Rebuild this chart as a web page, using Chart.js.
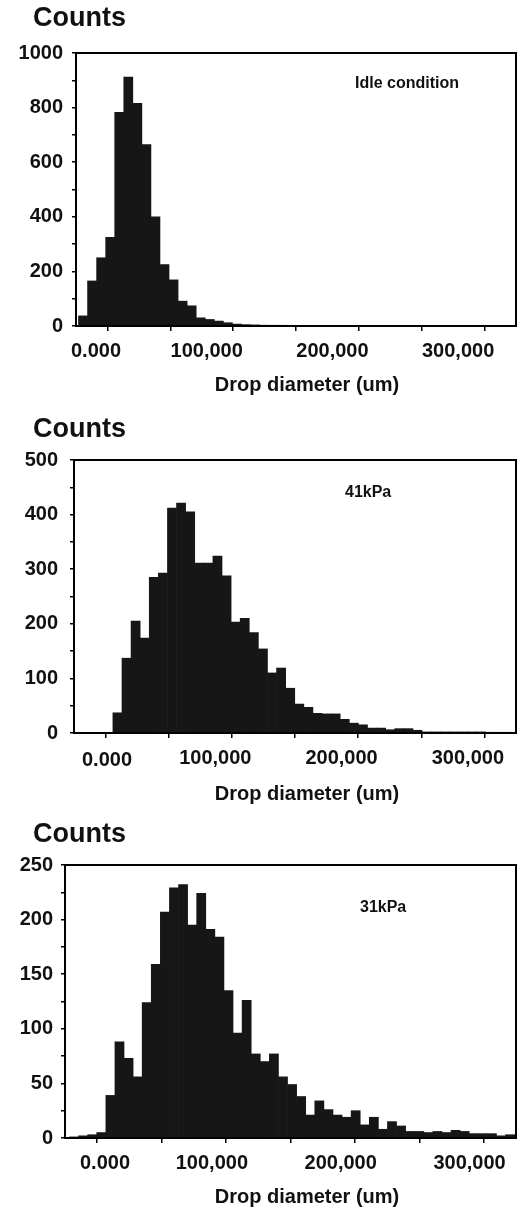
<!DOCTYPE html>
<html><head><meta charset="utf-8">
<script src="https://cdn.jsdelivr.net/npm/chart.js@4/dist/chart.umd.min.js"></script>
<style>
html,body{margin:0;padding:0;background:#fff;width:524px;height:1207px;overflow:hidden}
canvas{position:absolute;left:0;display:block}
</style></head><body>
<canvas id="c1" width="524" height="405" style="top:0"></canvas>
<canvas id="c2" width="524" height="405" style="top:405px"></canvas>
<canvas id="c3" width="524" height="397" style="top:810px"></canvas>
<script>
// ---- shared axis text ----
const yAxisTitle = 'Counts';
const xAxisTitle = 'Drop diameter (um)';
const xTickValues = [0, 100000, 200000, 300000];
const xTickLabels = ['0.000', '100,000', '200,000', '300,000'];
const xMinorTicks = [50000, 150000, 250000, 350000];
const xMax = 350000;

// ---- panel 1: idle condition ----
const idleLabel = 'Idle condition';
const idleBinStart = 2000;
const idleBinWidth = 7200;
const idleCounts = [37, 165, 250, 325, 783, 912, 816, 665, 400, 225, 169, 91, 74, 30, 24, 18, 12, 7, 5, 4, 3, 2, 1];
const idleYTicks = [0, 200, 400, 600, 800, 1000];
const idleYMinor = [100, 300, 500, 700, 900];

// ---- panel 2: 41 kPa ----
const kpa41Label = '41kPa';
const kpa41BinStart = 2000;
const kpa41BinWidth = 7200;
const kpa41Counts = [0, 0, 0, 0, 37, 137, 205, 174, 285, 293, 412, 421, 405, 311, 311, 324, 288, 203, 210, 184, 154, 110, 119, 82, 53, 47, 36, 35, 35, 25, 18, 15, 9, 9, 6, 8, 8, 5, 2, 2, 2, 2, 2, 2, 2, 1, 1, 1, 1];
const kpa41YTicks = [0, 100, 200, 300, 400, 500];
const kpa41YMinor = [50, 150, 250, 350, 450];

// ---- panel 3: 31 kPa ----
const kpa31Label = '31kPa';
const kpa31BinStart = 3500;
const kpa31BinWidth = 7050;
const kpa31Counts = [1, 2, 3, 5, 39, 88, 73, 56, 124, 159, 207, 229, 232, 195, 224, 191, 184, 135, 96, 126, 77, 70, 77, 56, 49, 38, 21, 34, 26, 21, 19, 25, 12, 19, 8, 15, 11, 6, 6, 5, 6, 5, 7, 6, 4, 4, 4, 2, 3];
const kpa31YTicks = [0, 50, 100, 150, 200, 250];
const kpa31YMinor = [25, 75, 125, 175, 225];

const FONT = '"Liberation Sans", Arial, sans-serif';
const INK = '#111';

const figText = {
  id: 'figText',
  afterDraw(chart, args, o) {
    const ctx = chart.ctx, a = chart.chartArea;
    ctx.save();
    ctx.strokeStyle = '#000';
    ctx.lineWidth = 2;
    ctx.strokeRect(a.left, a.top, a.right - a.left, a.bottom - a.top);
    ctx.fillStyle = INK;
    ctx.textBaseline = 'middle';
    for (const t of o.texts) {
      ctx.font = t.font;
      ctx.textAlign = t.align || 'left';
      ctx.fillText(t.text, t.x, t.y);
    }
    const xs = chart.scales.x;
    ctx.font = 'bold 20px ' + FONT;
    ctx.textAlign = 'center';
    ctx.fillText(xTickLabels[0], xs.getPixelForValue(xTickValues[0]) + o.zeroShift, o.tickY);
    ctx.restore();
  }
};

function makeChart(id, p) {
  const data = p.counts.map((c, i) => ({ x: p.binStart + p.binWidth * (i + 0.5), y: c }));
  return new Chart(document.getElementById(id), {
    type: 'bar',
    data: { datasets: [{ data, backgroundColor: '#161616', borderWidth: 0, barPercentage: 1, categoryPercentage: 1 }] },
    options: {
      responsive: false,
      animation: false,
      layout: { padding: { top: p.top, right: 7, left: 0, bottom: 0 } },
      plugins: {
        legend: { display: false },
        tooltip: { enabled: false },
        figText: {
          zeroShift: p.zeroShift,
          tickY: p.tickY,
          texts: [
            { text: yAxisTitle, x: 33, y: p.countsY, font: 'bold 27px ' + FONT },
            { text: p.label, x: p.labelX, y: p.labelY, font: 'bold 16px ' + FONT },
            { text: xAxisTitle, x: 307, y: p.titleY, font: 'bold 20px ' + FONT, align: 'center' }
          ]
        }
      },
      scales: {
        x: {
          type: 'linear', min: 0, max: xMax, offset: false,
          afterFit: s => { s.height = p.xHeight; },
          afterBuildTicks: s => { s.ticks = [...xTickValues, ...xMinorTicks].sort((u, v) => u - v).map(v => ({ value: v })); },
          ticks: {
            autoSkip: false, maxRotation: 0, padding: 8, labelOffset: p.labelOffset,
            color: INK, font: { family: FONT, size: 20, weight: 'bold' },
            callback: v => { const i = xTickValues.indexOf(v); return i > 0 ? xTickLabels[i] : ''; }
          },
          grid: { drawOnChartArea: false, drawTicks: true, tickLength: 5, color: '#000', lineWidth: 1.5 },
          border: { display: true, color: '#000', width: 2 }
        },
        y: {
          min: 0, max: p.yTicks[p.yTicks.length - 1],
          afterFit: s => { s.width = p.left; },
          afterBuildTicks: s => { s.ticks = [...p.yTicks, ...p.yMinor].sort((u, v) => u - v).map(v => ({ value: v })); },
          ticks: {
            autoSkip: false, padding: p.yPad,
            color: INK, font: { family: FONT, size: 20, weight: 'bold' },
            callback: v => (p.yTicks.includes(v) ? String(v) : '')
          },
          grid: { drawOnChartArea: false, drawTicks: true, tickLength: 4, color: '#000', lineWidth: 1.5 },
          border: { display: true, color: '#000', width: 2 }
        }
      }
    },
    plugins: [figText]
  });
}

makeChart('c1', {
  counts: idleCounts, binStart: idleBinStart, binWidth: idleBinWidth,
  yTicks: idleYTicks, yMinor: idleYMinor, label: idleLabel,
  top: 53, left: 76, xHeight: 79, yPad: 9, labelOffset: 5, zeroShift: 20,
  tickY: 351, titleY: 385, countsY: 19, labelX: 355, labelY: 84
});
makeChart('c2', {
  counts: kpa41Counts, binStart: kpa41BinStart, binWidth: kpa41BinWidth,
  yTicks: kpa41YTicks, yMinor: kpa41YMinor, label: kpa41Label,
  top: 55, left: 74, xHeight: 77, yPad: 12, labelOffset: 15, zeroShift: 33,
  tickY: 355, titleY: 389, countsY: 25, labelX: 345, labelY: 88
});
makeChart('c3', {
  counts: kpa31Counts, binStart: kpa31BinStart, binWidth: kpa31BinWidth,
  yTicks: kpa31YTicks, yMinor: kpa31YMinor, label: kpa31Label,
  top: 55, left: 65, xHeight: 69, yPad: 8, labelOffset: 18, zeroShift: 40,
  tickY: 353, titleY: 387, countsY: 25, labelX: 360, labelY: 98
});
</script>
</body></html>
